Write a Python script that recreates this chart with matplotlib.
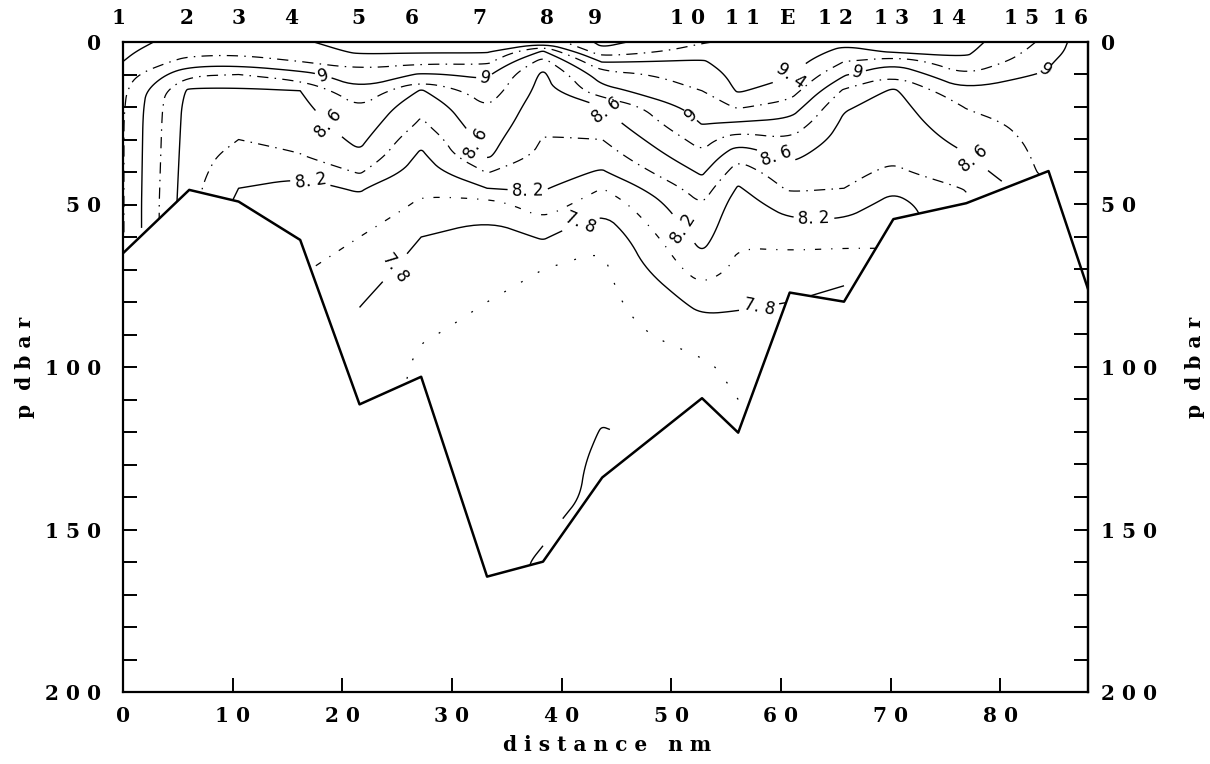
import numpy as np
import matplotlib
matplotlib.use('Agg')
import matplotlib.pyplot as plt
from matplotlib.patches import Polygon
from matplotlib.path import Path

# station positions along the section (nm) and bottom pressure at each (dbar)
station_nm = [0, 6.04, 10.54, 16.16, 21.57, 27.19, 33.2, 38.3, 43.7,
              52.8, 56.1, 60.8, 65.75, 70.25, 76.9, 84.4, 88]
bottom_dbar = [65, 45.5, 49.1, 60.9, 111.5, 103, 164.5, 159.9, 134,
               109.6, 120.2, 77.1, 79.9, 54.5, 49.6, 39.7, 76]

# station names along the top and where they are printed
station_names = ['1', '2', '3', '4', '5', '6', '7', '8', '9', '10', '11',
                 'E', '12', '13', '14', '15', '16']
name_nm = [-0.4, 5.8, 10.5, 15.3, 21.5, 26.3, 32.5, 38.7, 43.0, 51.5, 56.5,
           60.6, 65.0, 70.1, 75.3, 81.9, 86.4]

# pressure levels of the profiles (dbar)
levels_dbar = [0, 3, 6, 10, 15, 20, 25, 30, 35, 40, 45, 50, 60, 70, 80,
               90, 100, 110, 120, 130, 140, 150, 160, 170]

# temperature profiles (deg C), one per station, from the surface down to
# the first level at or below the bottom
temp = [
    [9.46, 9.43, 9.40, 9.30, 9.24, 9.22, 9.21, 9.21, 9.21, 9.21, 9.21, 9.21, 9.21, 9.21],
    [9.33, 9.27, 9.12, 8.83, 8.56, 8.52, 8.51, 8.50, 8.49, 8.48, 8.47, 8.46],
    [9.30, 9.25, 9.10, 8.80, 8.56, 8.50, 8.46, 8.40, 8.33, 8.27, 8.20, 8.15],
    [9.37, 9.30, 9.20, 8.93, 8.60, 8.55, 8.50, 8.45, 8.39, 8.23, 8.15, 8.10, 8.05, 8.02],
    [9.50, 9.43, 9.30, 9.12, 8.97, 8.80, 8.72, 8.65, 8.57, 8.42, 8.22, 8.15, 8.00, 7.90,
     7.81, 7.75, 7.72, 7.70, 7.69],
    [9.50, 9.42, 9.25, 8.98, 8.58, 8.45, 8.37, 8.25, 8.16, 8.10, 8.03, 7.97, 7.80, 7.72,
     7.68, 7.61, 7.57, 7.56],
    [9.48, 9.42, 9.25, 9.03, 8.92, 8.80, 8.74, 8.68, 8.63, 8.41, 8.20, 7.90, 7.70, 7.66,
     7.60, 7.57, 7.55, 7.54, 7.53, 7.52, 7.51, 7.50, 7.50, 7.50],
    [9.45, 8.97, 8.72, 8.56, 8.52, 8.48, 8.44, 8.39, 8.34, 8.28, 8.22, 8.13, 7.82, 7.60,
     7.57, 7.56, 7.55, 7.54, 7.53, 7.52, 7.50, 7.43, 7.37],
    [9.86, 9.75, 9.42, 9.12, 8.93, 8.60, 8.50, 8.40, 8.30, 8.18, 8.00, 7.85, 7.63, 7.56,
     7.54, 7.52, 7.50, 7.45, 7.39, 7.35, 7.34],
    [9.62, 9.50, 9.38, 9.28, 9.20, 9.10, 9.01, 8.88, 8.76, 8.63, 8.50, 8.40, 8.28, 8.11,
     7.86, 7.70, 7.56, 7.52],
    [9.55, 9.53, 9.50, 9.47, 9.42, 9.22, 8.98, 8.67, 8.45, 8.30, 8.18, 8.10, 8.02, 7.96,
     7.83, 7.72, 7.66, 7.60, 7.58, 7.57],
    [9.60, 9.55, 9.50, 9.42, 9.30, 9.12, 8.95, 8.79, 8.65, 8.52, 8.43, 8.30, 8.07, 7.90, 7.80],
    [9.45, 9.33, 9.20, 9.02, 8.77, 8.62, 8.56, 8.52, 8.48, 8.44, 8.40, 8.30, 8.08, 7.85, 7.75],
    [9.50, 9.42, 9.05, 8.82, 8.57, 8.53, 8.50, 8.47, 8.43, 8.37, 8.23, 8.13, 8.08],
    [9.47, 9.43, 9.37, 9.20, 8.98, 8.81, 8.73, 8.66, 8.59, 8.50, 8.41, 8.37],
    [9.15, 9.10, 9.03, 8.97, 8.93, 8.90, 8.88, 8.87, 8.86, 8.85],
    [8.84, 8.84, 8.83, 8.83, 8.83, 8.83, 8.82, 8.82, 8.82, 8.82, 8.82, 8.82, 8.82, 8.82, 8.82],
]

labelled_levels = [7.8, 8.2, 8.6, 9.0, 9.4]
plain_levels = [7.4, 9.8]
dashed_levels = [7.6, 8.0, 8.4, 8.8, 9.2, 9.6]
label_text = {7.8: '7. 8', 8.2: '8. 2', 8.6: '8. 6', 9.0: '9', 9.4: '9. 4'}


def spaced(s):
    return ' '.join(s)


def chaikin(v, n=3):
    # corner cutting, keeps both ends of the line where they are
    for _ in range(n):
        if len(v) < 3:
            break
        q = 0.75 * v[:-1] + 0.25 * v[1:]
        r = 0.25 * v[:-1] + 0.75 * v[1:]
        mid = np.empty((2 * len(q), 2))
        mid[0::2] = q
        mid[1::2] = r
        v = np.vstack([v[:1], mid, v[-1:]])
    return v


def smooth_contours(cset):
    new_paths = []
    for p in cset.get_paths():
        if len(p.vertices) == 0:
            new_paths.append(p)
            continue
        segs, cur = [], []
        for vert, code in zip(p.vertices, p.codes):
            if code == Path.MOVETO:
                if len(cur) > 1:
                    segs.append(np.array(cur))
                cur = [vert]
            elif code == Path.CLOSEPOLY:
                cur.append(cur[0])
            else:
                cur.append(vert)
        if len(cur) > 1:
            segs.append(np.array(cur))
        verts, codes = [], []
        for s in segs:
            s = chaikin(s)
            verts.append(s)
            codes += [Path.MOVETO] + [Path.LINETO] * (len(s) - 1)
        if verts:
            new_paths.append(Path(np.vstack(verts), codes))
        else:
            new_paths.append(p)
    cset._paths = new_paths


plt.rcParams['font.family'] = 'DejaVu Serif'
plt.rcParams['font.weight'] = 'bold'

# gridded section, masked below the bottom
grid = np.full((len(levels_dbar), len(station_nm)), np.nan)
for j, prof in enumerate(temp):
    grid[:len(prof), j] = prof
grid = np.ma.masked_invalid(grid)

fig = plt.figure(figsize=(12.1, 7.64), dpi=100)
ax = fig.add_axes([123 / 1210, 1 - 692 / 764, 965 / 1210, 650 / 764])

# water region, used to keep contours above the sea floor
water = [(station_nm[0], 0), (station_nm[-1], 0)] + list(zip(station_nm, bottom_dbar))[::-1]
water_patch = Polygon(water, closed=True, transform=ax.transData, facecolor='none', edgecolor='none')
ax.add_patch(water_patch)

cs = ax.contour(station_nm, levels_dbar, grid, levels=labelled_levels,
                colors='black', linewidths=1.0)
cp = ax.contour(station_nm, levels_dbar, grid, levels=plain_levels,
                colors='black', linewidths=1.0)
cd = ax.contour(station_nm, levels_dbar, grid, levels=dashed_levels,
                colors='black', linewidths=0.9)
for c in (cs, cp, cd):
    smooth_contours(c)
    c.set_clip_path(water_patch)
# deep intermediate isotherms only show as sparse dots in the original
cd.set_linestyle([(0, (1.5, 14)), (0, (5, 8, 1, 8)), (0, (9, 5, 1.2, 5)),
                  (0, (9, 5, 1.2, 5)), (0, (9, 5, 1.2, 5)), (0, (9, 5, 1.2, 5))])

# label spots near the ones used in the original section
spots = [(18.3, 10), (33, 11), (51.6, 23), (66.9, 8.6), (84.4, 10),
         (61, 10.5),
         (18.4, 26), (32, 31.5), (44.2, 21), (59.6, 34.8), (77.4, 36.3),
         (17.1, 43), (36.9, 47.6), (50.5, 58.5), (63, 55.4),
         (24.4, 68.6), (41.6, 55), (58, 81.5)]
texts = ax.clabel(cs, fmt=label_text, manual=spots, fontsize=12,
                  inline=True, inline_spacing=3)
for t in texts:
    t.set_fontfamily('DejaVu Sans')
    t.set_fontweight('normal')

# sea floor
ax.plot(station_nm, bottom_dbar, color='black', lw=1.8)

ax.set_xlim(0, 88)
ax.set_ylim(200, 0)

ax.set_xticks(range(0, 81, 10))
ax.set_xticklabels([spaced(str(v)) for v in range(0, 81, 10)])
ax.set_yticks(range(0, 201, 50))
ax.set_yticklabels([spaced(str(v)) for v in range(0, 201, 50)])
ax.set_yticks(range(0, 201, 10), minor=True)
ax.tick_params(axis='both', which='both', direction='in', length=10, width=1.4,
               labelsize=14.5, top=False, right=False)
ax.tick_params(axis='x', pad=10)
ax.tick_params(axis='y', pad=16)

sec = ax.secondary_yaxis('right')
sec.set_yticks(range(0, 201, 50))
sec.set_yticklabels([spaced(str(v)) for v in range(0, 201, 50)])
sec.set_yticks(range(0, 201, 10), minor=True)
sec.tick_params(axis='y', which='both', direction='in', length=10, width=1.4,
                labelsize=14.5, pad=9)
sec.spines['right'].set_linewidth(1.6)

for sp in ax.spines.values():
    sp.set_linewidth(1.6)

# station names along the top
for name, xn in zip(station_names, name_nm):
    ax.annotate(spaced(name), xy=(xn, 1.0), xycoords=('data', 'axes fraction'),
                xytext=(0, 10), textcoords='offset points', ha='center', va='bottom',
                fontsize=14.5, annotation_clip=False)

fig.text(25 / 1210, 1 - 367 / 764, 'p  d b a r', rotation=90, ha='center', va='center', fontsize=14.5)
fig.text(1195 / 1210, 1 - 367 / 764, 'p  d b a r', rotation=90, ha='center', va='center', fontsize=14.5)
fig.text(607 / 1210, 1 - 745 / 764, 'd i s t a n c e   n m', ha='center', va='center', fontsize=14.5)

fig.savefig('out.png', dpi=100, facecolor='white')
